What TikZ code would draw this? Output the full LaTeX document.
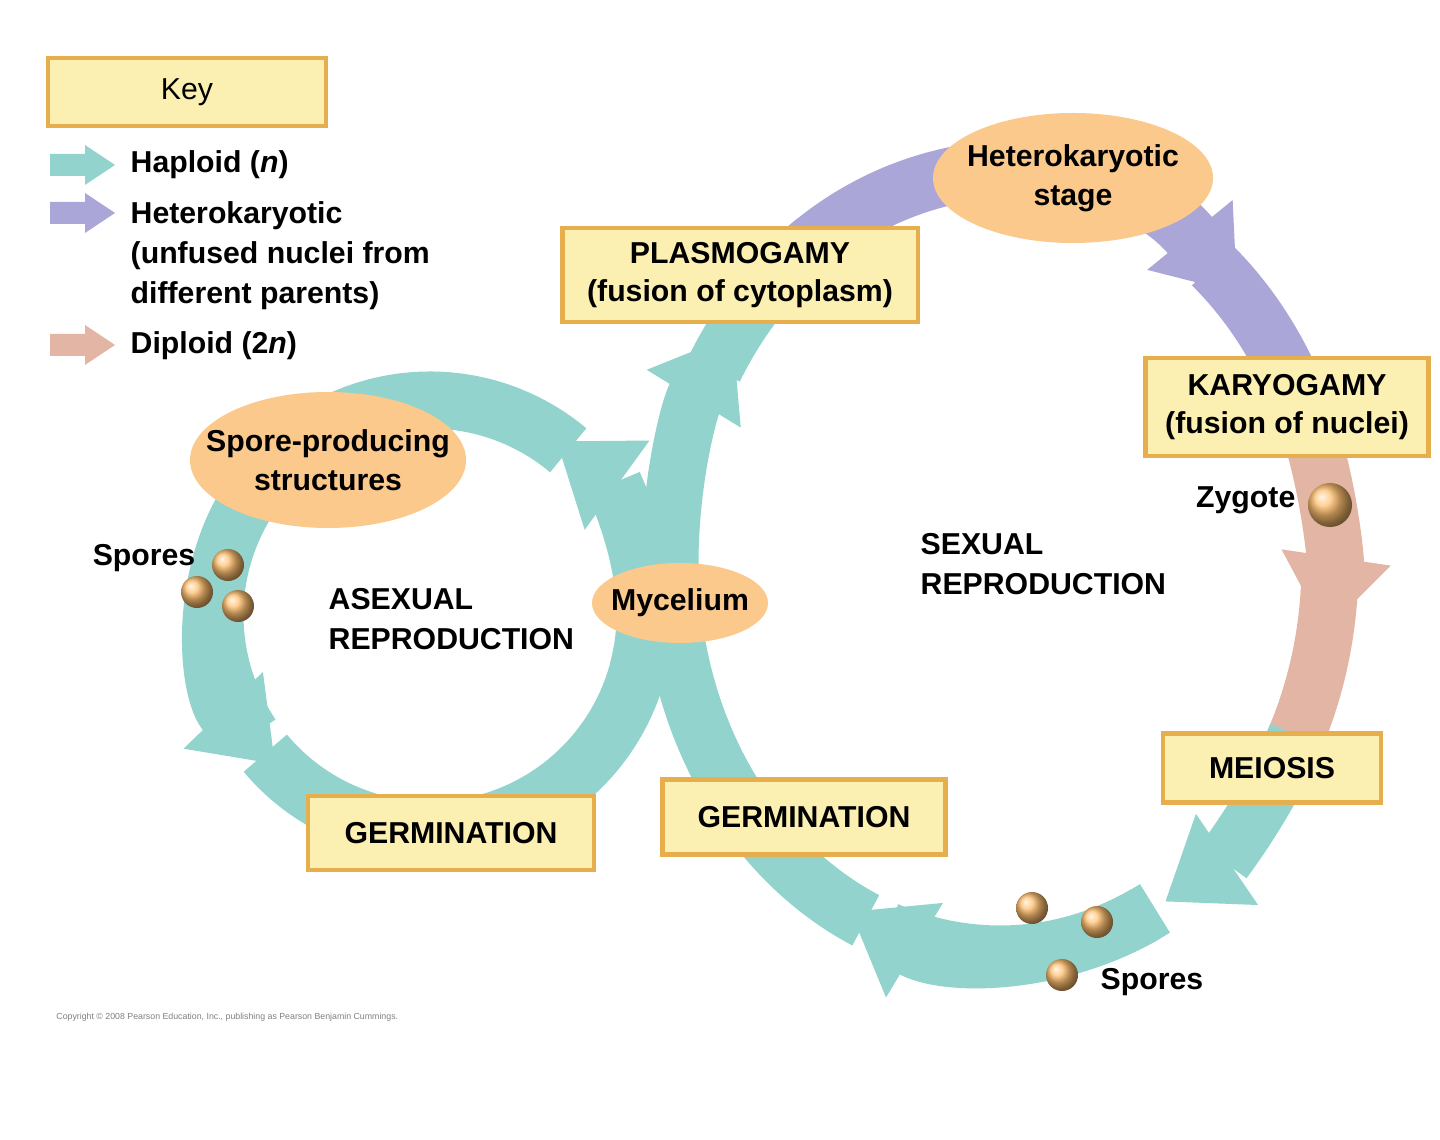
\documentclass[tikz,border=0pt]{standalone}
\usepackage{fontspec}
\setmainfont{Liberation Sans}
\usetikzlibrary{shapes.geometric,arrows.meta,calc}
\definecolor{hap}{HTML}{93D3CD}
\definecolor{het}{HTML}{ABA6D8}
\definecolor{dip}{HTML}{E3B5A4}
\definecolor{boxfill}{HTML}{FCEFB2}
\definecolor{boxline}{HTML}{E6AE4C}
\definecolor{ellfill}{HTML}{FBC98C}
\definecolor{ball}{HTML}{FFC070}
\begin{document}
\begin{tikzpicture}[x=0.01cm,y=0.01cm,
  band/.style={line width=0.57cm},
  tip/.style={-{Triangle[width=1.05cm,length=0.75cm]}},
  box/.style={draw=boxline,line width=1.2pt,fill=boxfill,align=center,font=\fontsize{8.6}{11}\selectfont\bfseries,inner sep=0pt},
  etext/.style={align=center,font=\fontsize{8.6}{11}\selectfont\bfseries,inner sep=0pt},
  lbl/.style={font=\fontsize{8.6}{11.3}\selectfont\bfseries,align=left,inner sep=0pt},
  sp/.style={circle,shading=ball,ball color=ball,minimum size=0.32cm,inner sep=0pt}]
\fill[white] (0,0) rectangle (1440,1139);
\useasboundingbox (0,0) rectangle (1440,1139);
\coordinate (S) at (1000,575);
\coordinate (A) at (430,524);
\newcommand\Sarc[3]{\draw[band,#1] ($(S)+({330*cos(#2)},{390*sin(#2)})$) arc[start angle=#2,end angle=#3,x radius=330,y radius=390];}
\newcommand\Aarc[3]{\draw[band,#1] ($(A)+({215*cos(#2)},{215*sin(#2)})$) arc[start angle=#2,end angle=#3,radius=215];}
% asexual loop
\Aarc{hap}{345}{360}
\Aarc{hap}{150}{214}
\Aarc{hap}{50}{150}
\Aarc{hap,tip}{0}{54}
\Aarc{hap}{220}{350}
\Aarc{hap,tip}{150}{224}
% sexual loop
\Sarc{hap}{150}{124}
\Sarc{hap,tip}{183}{144}
\Sarc{het}{50}{28}
\Sarc{het,tip}{126}{44}
\Sarc{dip}{-3}{-28}
\Sarc{dip,tip}{22}{-10}
\Sarc{hap}{-62}{-110}
\Sarc{hap,tip}{-26}{-60}
\Sarc{hap}{-114}{-180}
\Sarc{hap,tip}{-64}{-117}
% ellipses
\fill[ellfill] (1073,961) ellipse[x radius=140,y radius=65];
\fill[ellfill] (328,679) ellipse[x radius=138,y radius=68];
\fill[ellfill] (680,536) ellipse[x radius=88,y radius=40];
\node[etext] (hetst) at (1073,961) {Heterokaryotic\\stage};
\node[etext] (spst) at (328,679) {Spore-producing\\structures};
\node[etext] (myc) at (680,536) {Mycelium};
% boxes
\node[box,minimum width=2.78cm,minimum height=0.68cm,font=\fontsize{8.6}{11}\selectfont] (key) at (187,1047) {Key};
\node[box,minimum width=3.55cm,minimum height=0.94cm] (plas) at (740,864) {PLASMOGAMY\\(fusion of cytoplasm)};
\node[box,minimum width=2.83cm,minimum height=0.98cm] (kary) at (1287,732) {KARYOGAMY\\(fusion of nuclei)};
\node[box,minimum width=2.18cm,minimum height=0.69cm] (mei) at (1272,371) {MEIOSIS};
\node[box,minimum width=2.83cm,minimum height=0.75cm] (germR) at (804,322) {GERMINATION};
\node[box,minimum width=2.86cm,minimum height=0.74cm] (germL) at (451,306) {GERMINATION};
% key arrows
\foreach \yy/\cc in {974/hap,926/het,794/dip}
  \fill[\cc] (50,\yy+11) -- (85,\yy+11) -- (85,\yy+20) -- (115,\yy) -- (85,\yy-20) -- (85,\yy-11) -- (50,\yy-11) -- cycle;
\node[lbl,anchor=west] (kh) at (130,974) {Haploid (\textit{n})};
\node[lbl,anchor=north west] (kt) at (130,938) {Heterokaryotic\\(unfused nuclei from\\different parents)};
\node[lbl,anchor=west] (kd) at (130,793) {Diploid (2\textit{n})};
% labels
\node[lbl,anchor=north west] (sex) at (920,606) {SEXUAL\\REPRODUCTION};
\node[lbl,anchor=north west] (asex) at (328,551) {ASEXUAL\\REPRODUCTION};
\node[lbl,anchor=east] (zyg) at (1296,639) {Zygote};
\node[sp,minimum size=0.44cm] (z) at (1330,634) {};
\node[lbl,anchor=east] (spL) at (196,581) {Spores};
\node[sp] (s1) at (228,574) {};
\node[sp] (s2) at (197,547) {};
\node[sp] (s3) at (238,533) {};
\node[sp] (s4) at (1032,231) {};
\node[sp] (s5) at (1097,217) {};
\node[sp] (s6) at (1062,164) {};
\node[lbl,anchor=west] (spR) at (1100,157) {Spores};
\node[anchor=west,font=\fontsize{2.5}{3}\selectfont,text=gray] (copy) at (44,122) {Copyright \textcopyright\ 2008 Pearson Education, Inc., publishing as Pearson Benjamin Cummings.};
\end{tikzpicture}
\end{document}
